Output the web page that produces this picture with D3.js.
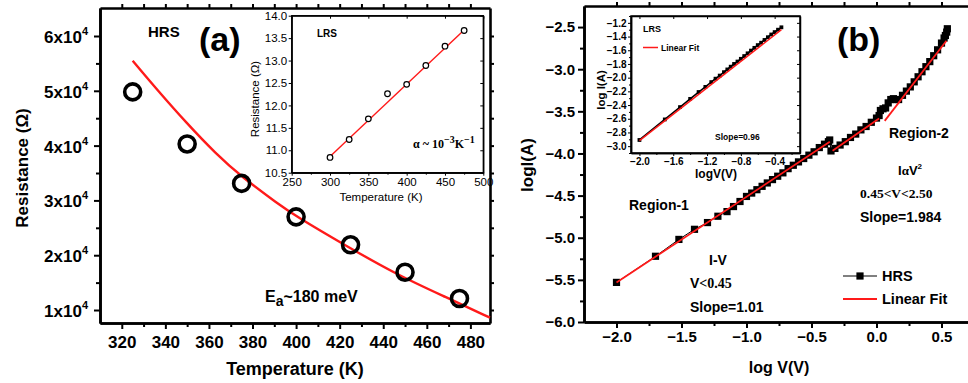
<!DOCTYPE html>
<html>
<head>
<meta charset="utf-8">
<script src="https://cdn.jsdelivr.net/npm/d3@7"></script>
<style>
  body { margin: 0; background: #fff; }
  svg { display: block; }
</style>
</head>
<body>
<script>
const SANS = "'Liberation Sans', Arial, Helvetica, sans-serif";
const SERIF = "'Liberation Serif', 'Times New Roman', serif";

// ---- panel (a): HRS resistance vs temperature
const hrsTemp = [325, 350, 375, 400, 425, 450, 475];
const hrsRes = [49800, 40300, 33100, 27000, 21900, 16900, 12100];
const fitTemp = [325, 336, 350, 363, 375, 392, 400, 423, 446, 469, 489];
const fitRes = [55500, 50300, 44000, 38600, 34300, 29300, 27100, 21700, 16500, 12300, 8600];
const aXTicks = [320, 340, 360, 380, 400, 420, 440, 460, 480];
const aYTicks = [10000, 20000, 30000, 40000, 50000, 60000];

// inset (a): LRS resistance
const lrsTemp = [300, 325, 350, 375, 400, 425, 450, 475];
const lrsRes = [10.84, 11.24, 11.70, 12.26, 12.47, 12.89, 13.32, 13.67];
const lrsFitT = [300, 475];
const lrsFitR = [10.86, 13.68];
const iaXTicks = [250, 300, 350, 400, 450, 500];
const iaYTicks = [10.5, 11.0, 11.5, 12.0, 12.5, 13.0, 13.5, 14.0];

// ---- panel (b): HRS log I vs log V
const hrsLogV = [-2.0, -1.7, -1.52, -1.4, -1.3, -1.22, -1.15, -1.1, -1.05, -1.0,
  -0.96, -0.92, -0.88, -0.84, -0.8, -0.76, -0.72, -0.68, -0.64, -0.6, -0.56, -0.52,
  -0.48, -0.44, -0.4, -0.37, -0.36,
  -0.35, -0.32, -0.28, -0.24, -0.2, -0.16, -0.12, -0.08, -0.04, 0.0, 0.02,
  0.03, 0.05, 0.07, 0.09, 0.11, 0.13, 0.15,
  0.17, 0.2, 0.23, 0.26, 0.29, 0.32, 0.35, 0.38, 0.41, 0.44, 0.47, 0.5, 0.52, 0.53, 0.54, 0.545];
const hrsLogI = [-5.53, -5.22, -5.02, -4.90, -4.82, -4.745, -4.69, -4.63, -4.57, -4.51,
  -4.47, -4.43, -4.39, -4.35, -4.31, -4.27, -4.23, -4.18, -4.14, -4.10, -4.06, -4.02,
  -3.98, -3.93, -3.89, -3.86, -3.84,
  -3.97, -3.94, -3.90, -3.86, -3.81, -3.77, -3.72, -3.68, -3.63, -3.58, -3.55,
  -3.49, -3.47, -3.46, -3.40, -3.36, -3.35, -3.36,
  -3.36, -3.31, -3.26, -3.21, -3.15, -3.09, -3.03, -2.97, -2.91, -2.84, -2.77, -2.69, -2.63, -2.60, -2.56, -2.52];
// piecewise linear fits [logV0, logI0, logV1, logI1]
const hrsFits = [
  [-2.0, -5.53, -0.359, -3.862],
  [-0.338, -3.969, 0.02, -3.584],
  [0.063, -3.613, 0.538, -2.663]
];
const bXTicks = [-2.0, -1.5, -1.0, -0.5, 0.0, 0.5];
const bYTicks = [-6.0, -5.5, -5.0, -4.5, -4.0, -3.5, -3.0, -2.5];

// inset (b): LRS
const lrsLogV = [-2.0, -1.7, -1.52, -1.4, -1.3, -1.22, -1.15, -1.1, -1.05, -1.0, -0.96, -0.92,
  -0.88, -0.84, -0.8, -0.76, -0.72, -0.68, -0.64, -0.6, -0.56, -0.52, -0.48, -0.44, -0.4, -0.36, -0.32];
const lrsLogI = [-2.91, -2.61, -2.43, -2.31, -2.21, -2.135, -2.065, -2.015, -1.97, -1.92, -1.88, -1.84,
  -1.80, -1.765, -1.725, -1.685, -1.645, -1.605, -1.565, -1.525, -1.49, -1.45, -1.41, -1.37, -1.335, -1.30, -1.265];
const lrsFit = [-2.0, -2.92, -0.32, -1.30];
const ibXTicks = [-2.0, -1.6, -1.2, -0.8, -0.4];
const ibYTicks = [-3.0, -2.8, -2.6, -2.4, -2.2, -2.0, -1.8, -1.6, -1.4, -1.2];

const svg = d3.select("body").append("svg")
  .attr("width", 968).attr("height", 383)
  .style("background", "#fff");

function addAxis(gen, tx, ty, o) {
  const g = svg.append("g").attr("transform", `translate(${tx},${ty})`).call(gen);
  g.attr("font-family", o.font || SANS).attr("font-size", o.fs || 10);
  g.select(".domain").attr("stroke-width", o.lw).attr("stroke", "#000");
  g.selectAll(".tick line").attr("stroke-width", o.tw).attr("stroke", "#000");
  g.selectAll(".tick text").attr("font-weight", o.fw || "bold").attr("fill", "#000");
  return g;
}
function minorVals(lo, hi, step, skip) {
  const out = [];
  for (let v = lo; v <= hi + 1e-9; v += step) {
    const r = Math.round(v * 1000) / 1000;
    if (!skip.some(s => Math.abs(s - r) < 1e-6)) out.push(r);
  }
  return out;
}

// ================= panel (a) =================
const xA = d3.scaleLinear().domain([310, 489]).range([100, 490]);
const yA = d3.scaleLinear().domain([7630, 65110]).range([323, 8]);
const aXMinor = minorVals(330, 470, 20, []);
const aYMinor = [15000, 25000, 35000, 45000, 55000];
const mainA = { lw: 2.6, tw: 2, fs: 17 };

addAxis(d3.axisBottom(xA).tickValues(aXTicks).tickSize(6).tickPadding(7).tickSizeOuter(0), 0, 323, mainA);
addAxis(d3.axisBottom(xA).tickValues(aXMinor).tickSize(4).tickFormat("").tickSizeOuter(0), 0, 323, mainA);
addAxis(d3.axisTop(xA).tickValues(aXTicks.concat(aXMinor)).tickSize(4).tickFormat("").tickSizeOuter(0), 0, 8, mainA);
addAxis(d3.axisLeft(yA).tickValues(aYTicks).tickSize(6).tickFormat("").tickSizeOuter(0), 100, 0, mainA);
addAxis(d3.axisLeft(yA).tickValues(aYMinor).tickSize(4).tickFormat("").tickSizeOuter(0), 100, 0, mainA);
addAxis(d3.axisRight(yA).tickValues(aYTicks.concat(aYMinor)).tickSize(4).tickFormat("").tickSizeOuter(0), 490, 0, mainA);

// y tick labels "Nx10^4"
const aYLab = svg.append("g").attr("font-family", SANS).attr("font-weight", "bold").attr("font-size", 17);
aYTicks.forEach(v => {
  const t = aYLab.append("text").attr("x", 88).attr("y", yA(v) + 7).attr("text-anchor", "end");
  t.append("tspan").text((v / 10000) + "x10");
  t.append("tspan").attr("dy", -8).attr("font-size", 11).text("4");
});

svg.append("path")
  .datum(fitTemp.map((t, i) => [t, fitRes[i]]))
  .attr("fill", "none").attr("stroke", "#ff1a1a").attr("stroke-width", 2.4)
  .attr("d", d3.line().x(d => xA(d[0])).y(d => yA(d[1])).curve(d3.curveBasis));

svg.append("g").selectAll("circle")
  .data(hrsTemp.map((t, i) => [t, hrsRes[i]]))
  .join("circle")
  .attr("cx", d => xA(d[0])).attr("cy", d => yA(d[1])).attr("r", 8)
  .attr("fill", "none").attr("stroke", "#000").attr("stroke-width", 3.6);

const txtA = svg.append("g").attr("font-family", SANS).attr("font-weight", "bold").attr("fill", "#000");
txtA.append("text").attr("x", 148).attr("y", 37).attr("font-size", 15).text("HRS");
txtA.append("text").attr("x", 199).attr("y", 51).attr("font-size", 34).text("(a)");
const ea = txtA.append("text").attr("x", 265).attr("y", 302).attr("font-size", 16);
ea.append("tspan").text("E");
ea.append("tspan").attr("dy", 4).attr("font-size", 14).text("a");
ea.append("tspan").attr("dy", -4).text("~180 meV");
txtA.append("text").attr("transform", "translate(28,168) rotate(-90)")
  .attr("text-anchor", "middle").attr("font-size", 17).text("Resistance (\u03A9)");
txtA.append("text").attr("x", 295).attr("y", 375).attr("text-anchor", "middle")
  .attr("font-size", 18).text("Temperature (K)");

// ---- inset (a)
const xIA = d3.scaleLinear().domain([250, 500]).range([291.7, 483.3]);
const yIA = d3.scaleLinear().domain([10.5, 14.0]).range([172.7, 15.7]);
svg.append("rect").attr("x", 291.7).attr("y", 15.7).attr("width", 191.6).attr("height", 157)
  .attr("fill", "#fff").attr("stroke", "#000").attr("stroke-width", 1.3);
const inA = { lw: 1.3, tw: 1, fs: 11.5, fw: "normal" };
addAxis(d3.axisBottom(xIA).tickValues(iaXTicks).tickSize(3).tickPadding(2).tickSizeOuter(0), 0, 172.7, inA);
addAxis(d3.axisBottom(xIA).tickValues(minorVals(275, 475, 50, [])).tickSize(2).tickFormat("").tickSizeOuter(0), 0, 172.7, inA);
addAxis(d3.axisLeft(yIA).tickValues(iaYTicks).tickSize(3).tickPadding(1.5).tickFormat(d3.format(".1f")).tickSizeOuter(0), 291.7, 0, inA);
addAxis(d3.axisRight(yIA).tickValues(iaYTicks).tickSize(-3).tickFormat("").tickSizeOuter(0), 483.3, 0, inA);
addAxis(d3.axisTop(xIA).tickValues(iaXTicks).tickSize(-3).tickFormat("").tickSizeOuter(0), 0, 15.7, inA);

svg.append("line")
  .attr("x1", xIA(lrsFitT[0])).attr("y1", yIA(lrsFitR[0]))
  .attr("x2", xIA(lrsFitT[1])).attr("y2", yIA(lrsFitR[1]))
  .attr("stroke", "#ff1a1a").attr("stroke-width", 1.4);
svg.append("g").selectAll("circle")
  .data(lrsTemp.map((t, i) => [t, lrsRes[i]]))
  .join("circle")
  .attr("cx", d => xIA(d[0])).attr("cy", d => yIA(d[1])).attr("r", 2.8)
  .attr("fill", "#fff").attr("stroke", "#000").attr("stroke-width", 1.2);

const txtIA = svg.append("g").attr("font-family", SANS).attr("fill", "#000");
txtIA.append("text").attr("x", 317).attr("y", 37).attr("font-size", 10).attr("font-weight", "bold").text("LRS");
txtIA.append("text").attr("transform", "translate(259,99) rotate(-90)")
  .attr("text-anchor", "middle").attr("font-size", 11.5).text("Resistance (\u03A9)");
txtIA.append("text").attr("x", 381).attr("y", 200.5).attr("text-anchor", "middle")
  .attr("font-size", 11.5).text("Temperature (K)");
const alpha = txtIA.append("text").attr("x", 413).attr("y", 148)
  .attr("font-family", SERIF).attr("font-weight", "bold").attr("font-size", 12);
alpha.append("tspan").text("\u03B1 ~ 10");
alpha.append("tspan").attr("dy", -5).attr("font-size", 10).text("\u22123");
alpha.append("tspan").attr("dy", 5).text("K");
alpha.append("tspan").attr("dy", -5).attr("font-size", 10).text("\u22121");

// ================= panel (b) =================
const xB = d3.scaleLinear().domain([-2.25, 0.75]).range([584, 974]);
const yB = d3.scaleLinear().domain([-6.0, -2.25]).range([322, 6]);
const mainB = { lw: 2.6, tw: 2, fs: 15 };
const bXMinor = [-1.75, -1.25, -0.75, -0.25, 0.25];
const bYMinor = [-5.75, -5.25, -4.75, -4.25, -3.75, -3.25, -2.75];
addAxis(d3.axisBottom(xB).tickValues(bXTicks).tickSize(6).tickPadding(3).tickFormat(d3.format(".1f")).tickSizeOuter(0), 0, 322, mainB);
addAxis(d3.axisBottom(xB).tickValues(bXMinor).tickSize(4).tickFormat("").tickSizeOuter(0), 0, 322, mainB);
addAxis(d3.axisTop(xB).tickValues(bXTicks.concat(bXMinor)).tickSize(4).tickFormat("").tickSizeOuter(0), 0, 6, mainB);
addAxis(d3.axisLeft(yB).tickValues(bYTicks).tickSize(6).tickPadding(3).tickFormat(d3.format(".1f")).tickSizeOuter(0), 584, 0, mainB);
addAxis(d3.axisLeft(yB).tickValues(bYMinor).tickSize(4).tickFormat("").tickSizeOuter(0), 584, 0, mainB);

// HRS data: thin line + squares
const hrsPts = hrsLogV.map((v, i) => [v, hrsLogI[i]]);
svg.append("path").datum(hrsPts)
  .attr("fill", "none").attr("stroke", "#000").attr("stroke-width", 1)
  .attr("d", d3.line().x(d => xB(d[0])).y(d => yB(d[1])));
svg.append("g").selectAll("rect")
  .data(hrsPts).join("rect")
  .attr("x", d => xB(d[0]) - 3.6).attr("y", d => yB(d[1]) - 3.6)
  .attr("width", 7.2).attr("height", 7.2).attr("fill", "#000");
svg.append("g").selectAll("line")
  .data(hrsFits).join("line")
  .attr("x1", d => xB(d[0])).attr("y1", d => yB(d[1]))
  .attr("x2", d => xB(d[2])).attr("y2", d => yB(d[3]))
  .attr("stroke", "#ff1a1a").attr("stroke-width", 1.8);

const txtB = svg.append("g").attr("font-family", SANS).attr("font-weight", "bold").attr("fill", "#000");
txtB.append("text").attr("x", 837).attr("y", 51).attr("font-size", 34).text("(b)");
txtB.append("text").attr("x", 629).attr("y", 210).attr("font-size", 14).text("Region-1");
txtB.append("text").attr("x", 709).attr("y", 265).attr("font-size", 14).text("I-V");
const vlt = txtB.append("text").attr("x", 690).attr("y", 288).attr("font-size", 14);
vlt.append("tspan").text("V");
vlt.append("tspan").attr("font-family", SERIF).text("<0.45");
txtB.append("text").attr("x", 690).attr("y", 311.5).attr("font-size", 14).text("Slope=1.01");
txtB.append("text").attr("x", 889).attr("y", 138).attr("font-size", 14).text("Region-2");
const iav = txtB.append("text").attr("x", 898).attr("y", 175).attr("font-size", 13);
iav.append("tspan").text("I");
iav.append("tspan").attr("font-family", SERIF).text("\u03B1");
iav.append("tspan").text("V");
iav.append("tspan").attr("dy", -6).attr("font-size", 8).text("2");
txtB.append("text").attr("x", 860).attr("y", 198).attr("font-size", 13.5)
  .attr("font-family", SERIF).text("0.45<V<2.50");
txtB.append("text").attr("x", 860).attr("y", 221.5).attr("font-size", 14).text("Slope=1.984");
txtB.append("text").attr("transform", "translate(533,165) rotate(-90)")
  .attr("text-anchor", "middle").attr("font-size", 17).text("logI(A)");
txtB.append("text").attr("x", 779).attr("y", 373).attr("text-anchor", "middle")
  .attr("font-size", 16).text("log V(V)");

// legend
svg.append("line").attr("x1", 843).attr("x2", 877).attr("y1", 276).attr("y2", 276)
  .attr("stroke", "#000").attr("stroke-width", 1);
svg.append("rect").attr("x", 856.4).attr("y", 272.4).attr("width", 7.2).attr("height", 7.2).attr("fill", "#000");
svg.append("line").attr("x1", 843).attr("x2", 877).attr("y1", 299).attr("y2", 299)
  .attr("stroke", "#ff1a1a").attr("stroke-width", 1.8);
txtB.append("text").attr("x", 882).attr("y", 281).attr("font-size", 14.5).text("HRS");
txtB.append("text").attr("x", 882).attr("y", 304).attr("font-size", 14.5).text("Linear Fit");

// ---- inset (b)
const xIB = d3.scaleLinear().domain([-2.1, -0.1]).range([631, 800]);
const yIB = d3.scaleLinear().domain([-3.1, -1.1]).range([153, 16]);
svg.append("rect").attr("x", 631).attr("y", 16).attr("width", 169).attr("height", 137)
  .attr("fill", "#fff").attr("stroke", "#000").attr("stroke-width", 1.5);
const inB = { lw: 1.5, tw: 1, fs: 10 };
addAxis(d3.axisBottom(xIB).tickValues(ibXTicks).tickSize(3).tickPadding(2).tickFormat(d3.format(".1f")).tickSizeOuter(0), 0, 153, inB);
addAxis(d3.axisBottom(xIB).tickValues([-1.8, -1.4, -1.0, -0.6, -0.2]).tickSize(2).tickFormat("").tickSizeOuter(0), 0, 153, inB);
addAxis(d3.axisLeft(yIB).tickValues(ibYTicks).tickSize(3).tickPadding(1.5).tickFormat(d3.format(".1f")).tickSizeOuter(0), 631, 0, inB);
addAxis(d3.axisLeft(yIB).tickValues(minorVals(-3.1, -1.1, 0.2, [])).tickSize(2).tickFormat("").tickSizeOuter(0), 631, 0, inB);
addAxis(d3.axisRight(yIB).tickValues(ibYTicks).tickSize(-3).tickFormat("").tickSizeOuter(0), 800, 0, inB);
addAxis(d3.axisTop(xIB).tickValues(ibXTicks).tickSize(-3).tickFormat("").tickSizeOuter(0), 0, 16, inB);

const lrsPts = lrsLogV.map((v, i) => [v, lrsLogI[i]]);
svg.append("path").datum(lrsPts)
  .attr("fill", "none").attr("stroke", "#000").attr("stroke-width", 1.6)
  .attr("d", d3.line().x(d => xIB(d[0])).y(d => yIB(d[1])));
svg.append("g").selectAll("rect")
  .data(lrsPts).join("rect")
  .attr("x", d => xIB(d[0]) - 1.9).attr("y", d => yIB(d[1]) - 1.9)
  .attr("width", 3.8).attr("height", 3.8).attr("fill", "#000");
svg.append("line")
  .attr("x1", xIB(lrsFit[0])).attr("y1", yIB(lrsFit[1]))
  .attr("x2", xIB(lrsFit[2])).attr("y2", yIB(lrsFit[3]))
  .attr("stroke", "#ff1a1a").attr("stroke-width", 1.5);

const txtIB = svg.append("g").attr("font-family", SANS).attr("font-weight", "bold").attr("fill", "#000");
txtIB.append("text").attr("x", 643).attr("y", 32).attr("font-size", 9).text("LRS");
svg.append("line").attr("x1", 643).attr("x2", 658).attr("y1", 47.5).attr("y2", 47.5)
  .attr("stroke", "#ff1a1a").attr("stroke-width", 1.5);
txtIB.append("text").attr("x", 661).attr("y", 50.5).attr("font-size", 8.5).text("Linear Fit");
txtIB.append("text").attr("x", 715).attr("y", 140).attr("font-size", 8.5).text("Slope=0.96");
txtIB.append("text").attr("transform", "translate(605,90) rotate(-90)")
  .attr("text-anchor", "middle").attr("font-size", 11.5).text("log I(A)");
txtIB.append("text").attr("x", 716).attr("y", 177.5).attr("text-anchor", "middle")
  .attr("font-size", 12).text("logV(V)");
</script>
</body>
</html>
